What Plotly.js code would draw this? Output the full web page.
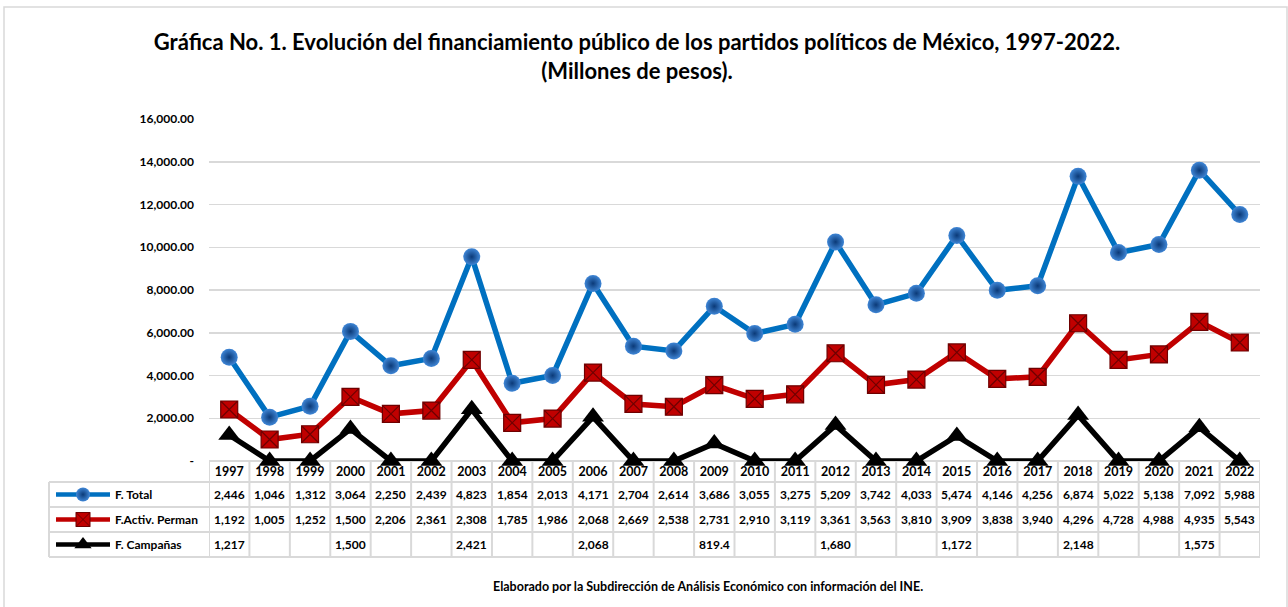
<!DOCTYPE html>
<html>
<head>
<meta charset="utf-8">
<script src="https://cdn.plot.ly/plotly-3.0.1.min.js"></script>
<style>html,body{margin:0;padding:0;background:#fff;}#chart{width:1288px;height:607px;}</style>
</head>
<body>
<div id="chart"></div>
<script>
// ---- Data ----
const years = ['1997','1998','1999','2000','2001','2002','2003','2004','2005','2006','2007','2008','2009','2010','2011','2012','2013','2014','2015','2016','2017','2018','2019','2020','2021','2022'];
const fTotal = [2446,1046,1312,3064,2250,2439,4823,1854,2013,4171,2704,2614,3686,3055,3275,5209,3742,4033,5474,4146,4256,6874,5022,5138,7092,5988];
const fPerman = [1192,1005,1252,1500,2206,2361,2308,1785,1986,2068,2669,2538,2731,2910,3119,3361,3563,3810,3909,3838,3940,4296,4728,4988,4935,5543];
const fCampanas = [1217,null,null,1500,null,null,2421,null,null,2068,null,null,819.4,null,null,1680,null,null,1172,null,null,2148,null,null,1575,null];
const seriesNames = ['F. Total','F.Activ. Perman','F. Campañas'];
const yTickVals = [0,2000,4000,6000,8000,10000,12000,14000,16000];
const yTickText = ['-','2,000.00','4,000.00','6,000.00','8,000.00','10,000.00','12,000.00','14,000.00','16,000.00'];
const titleText = 'Gráfica No. 1. Evolución del financiamiento público de los partidos políticos de México, 1997-2022.<br>(Millones de pesos).';
const footerText = 'Elaborado por la Subdirección de Análisis Económico con información del INE.';

// ---- Helpers (pixel -> paper) ----
const W = 1288, H = 607;
const px = v => v / W;
const py = v => (H - v) / H;
const FONT = 'Lato, "Open Sans", sans-serif';
const GRID = '#d9d9d9';
const colors = ['#0070C0', '#C00000', '#000000'];

const fmt = v => (v === null || v === undefined) ? '' : v.toLocaleString('en-US', {maximumFractionDigits: 1});

// Stacked line (Excel "stacked line" style): campaigns bottom, then permanent, then total
const campPlot = fCampanas.map(v => v === null ? 0 : v);

const traces = [
  {
    x: years, y: campPlot, name: seriesNames[2], type: 'scatter', mode: 'lines+markers',
    stackgroup: 'one', fill: 'none', cliponaxis: false,
    line: {color: colors[2], width: 5.5},
    marker: {symbol: 'triangle-up', size: 19, color: '#000'},
    showlegend: false
  },
  {
    x: years, y: fPerman, name: seriesNames[1], type: 'scatter', mode: 'lines+markers',
    stackgroup: 'one', fill: 'none', cliponaxis: false,
    line: {color: colors[1], width: 5.5},
    marker: {symbol: 'square-x', size: 17, color: '#C00000', line: {color: '#6e0000', width: 1.2}},
    showlegend: false
  },
  {
    x: years, y: fTotal, name: seriesNames[0], type: 'scatter', mode: 'lines+markers',
    stackgroup: 'one', fill: 'none', cliponaxis: false,
    line: {color: colors[0], width: 5.5},
    marker: {symbol: 'circle', size: 17, color: '#3f86d6', gradient: {type: 'radial', color: '#0b3a78'}, line: {width: 0}},
    showlegend: false
  }
];

// Table geometry (pixels)
const tblLeft = 49, plotLeft = 209, plotRight = 1260;
const rowEdges = [461, 482, 507, 532, 557];
const shapes = [];
// outer chart border
shapes.push({type: 'rect', xref: 'paper', yref: 'paper', x0: px(4), x1: px(1287), y0: py(7), y1: py(615), line: {color: GRID, width: 1.5}, layer: 'below'});
// horizontal table lines
shapes.push({type: 'line', xref: 'paper', yref: 'paper', x0: px(plotLeft), x1: px(plotRight), y0: py(rowEdges[0]), y1: py(rowEdges[0]), line: {color: GRID, width: 2}, layer: 'below'});
for (let r = 1; r < rowEdges.length; r++) {
  shapes.push({type: 'line', xref: 'paper', yref: 'paper', x0: px(tblLeft), x1: px(plotRight), y0: py(rowEdges[r]), y1: py(rowEdges[r]), line: {color: GRID, width: 2}, layer: 'below'});
}
// vertical lines at category boundaries
for (let i = 0; i <= years.length; i++) {
  shapes.push({type: 'line', xref: 'x', yref: 'paper', x0: i - 0.5, x1: i - 0.5, y0: py(rowEdges[0]), y1: py(rowEdges[4]), line: {color: GRID, width: 2}, layer: 'below'});
}
// left edge of legend column
shapes.push({type: 'line', xref: 'paper', yref: 'paper', x0: px(tblLeft), x1: px(tblLeft), y0: py(rowEdges[1]), y1: py(rowEdges[4]), line: {color: GRID, width: 2}, layer: 'below'});

// Table annotations
const annotations = [];
const rows = [fTotal, fPerman, fCampanas];
const cellFont = {family: FONT, size: 12, color: '#000', weight: 'bold'};
rows.forEach((arr, r) => {
  const yc = py((rowEdges[r + 1] + rowEdges[r + 2]) / 2);
  arr.forEach((v, i) => {
    if (v === null) return;
    annotations.push({xref: 'x', yref: 'paper', x: i, y: yc, text: fmt(v), showarrow: false, font: cellFont, xanchor: 'center', yanchor: 'middle'});
  });
  annotations.push({xref: 'paper', yref: 'paper', x: px(113), y: yc, text: seriesNames[r], showarrow: false, font: cellFont, xanchor: 'left', yanchor: 'middle'});
});
annotations.push({xref: 'paper', yref: 'paper', x: px(708), y: py(586), text: footerText, showarrow: false, font: {family: FONT, size: 12.5, color: '#000', weight: 'bold'}, xanchor: 'center', yanchor: 'middle'});

// Legend keys in the table's first column (overlay pixel axes)
const keyY = [0, 1, 2].map(r => (rowEdges[r + 1] + rowEdges[r + 2]) / 2);
const keyMarkers = [
  {symbol: 'circle', size: 14, color: '#3f86d6', gradient: {type: 'radial', color: '#0b3a78'}},
  {symbol: 'square-x', size: 14, color: '#C00000', line: {color: '#6e0000', width: 1}},
  {symbol: 'triangle-up', size: 15, color: '#000'}
];
[0, 1, 2].forEach(r => {
  traces.push({x: [56, 110], y: [keyY[r], keyY[r]], xaxis: 'x2', yaxis: 'y2', mode: 'lines', line: {color: colors[r], width: 4.5}, showlegend: false, hoverinfo: 'skip'});
  traces.push({x: [83], y: [keyY[r]], xaxis: 'x2', yaxis: 'y2', mode: 'markers', marker: keyMarkers[r], showlegend: false, hoverinfo: 'skip', cliponaxis: false});
});

const layout = {
  width: W, height: H,
  margin: {l: 0, r: 0, t: 0, b: 0, pad: 0},
  paper_bgcolor: '#ffffff',
  plot_bgcolor: 'rgba(0,0,0,0)',
  showlegend: false,
  hovermode: false,
  font: {family: FONT, color: '#000'},
  title: {
    text: titleText,
    font: {family: FONT, size: 22, color: '#000', weight: 'bold'},
    x: 0.4946, xanchor: 'center', xref: 'paper',
    y: py(50), yanchor: 'top', yref: 'paper'
  },
  xaxis: {
    type: 'category', domain: [px(plotLeft), px(plotRight)], range: [-0.5, years.length - 0.5],
    showgrid: false, showline: false, zeroline: false, ticks: '',
    tickfont: {family: FONT, size: 12.5, color: '#000', weight: 'bold'},
    ticklabelstandoff: 1, layer: 'below traces', fixedrange: true
  },
  yaxis: {
    domain: [py(461), py(119)], range: [0, 16000],
    tickvals: yTickVals, ticktext: yTickText,
    showgrid: true, gridcolor: GRID, gridwidth: 1.5,
    zeroline: false, showline: false, ticks: '',
    tickfont: {family: FONT, size: 12, color: '#000', weight: 'bold'},
    ticklabelstandoff: 14, layer: 'below traces', fixedrange: true
  },
  xaxis2: {domain: [0, 1], range: [0, W], visible: false, anchor: 'y2', fixedrange: true},
  yaxis2: {domain: [0, 1], range: [H, 0], visible: false, anchor: 'x2', fixedrange: true},
  shapes: shapes,
  annotations: annotations
};

Plotly.newPlot('chart', traces, layout, {displayModeBar: false, staticPlot: true});
</script>
</body>
</html>
